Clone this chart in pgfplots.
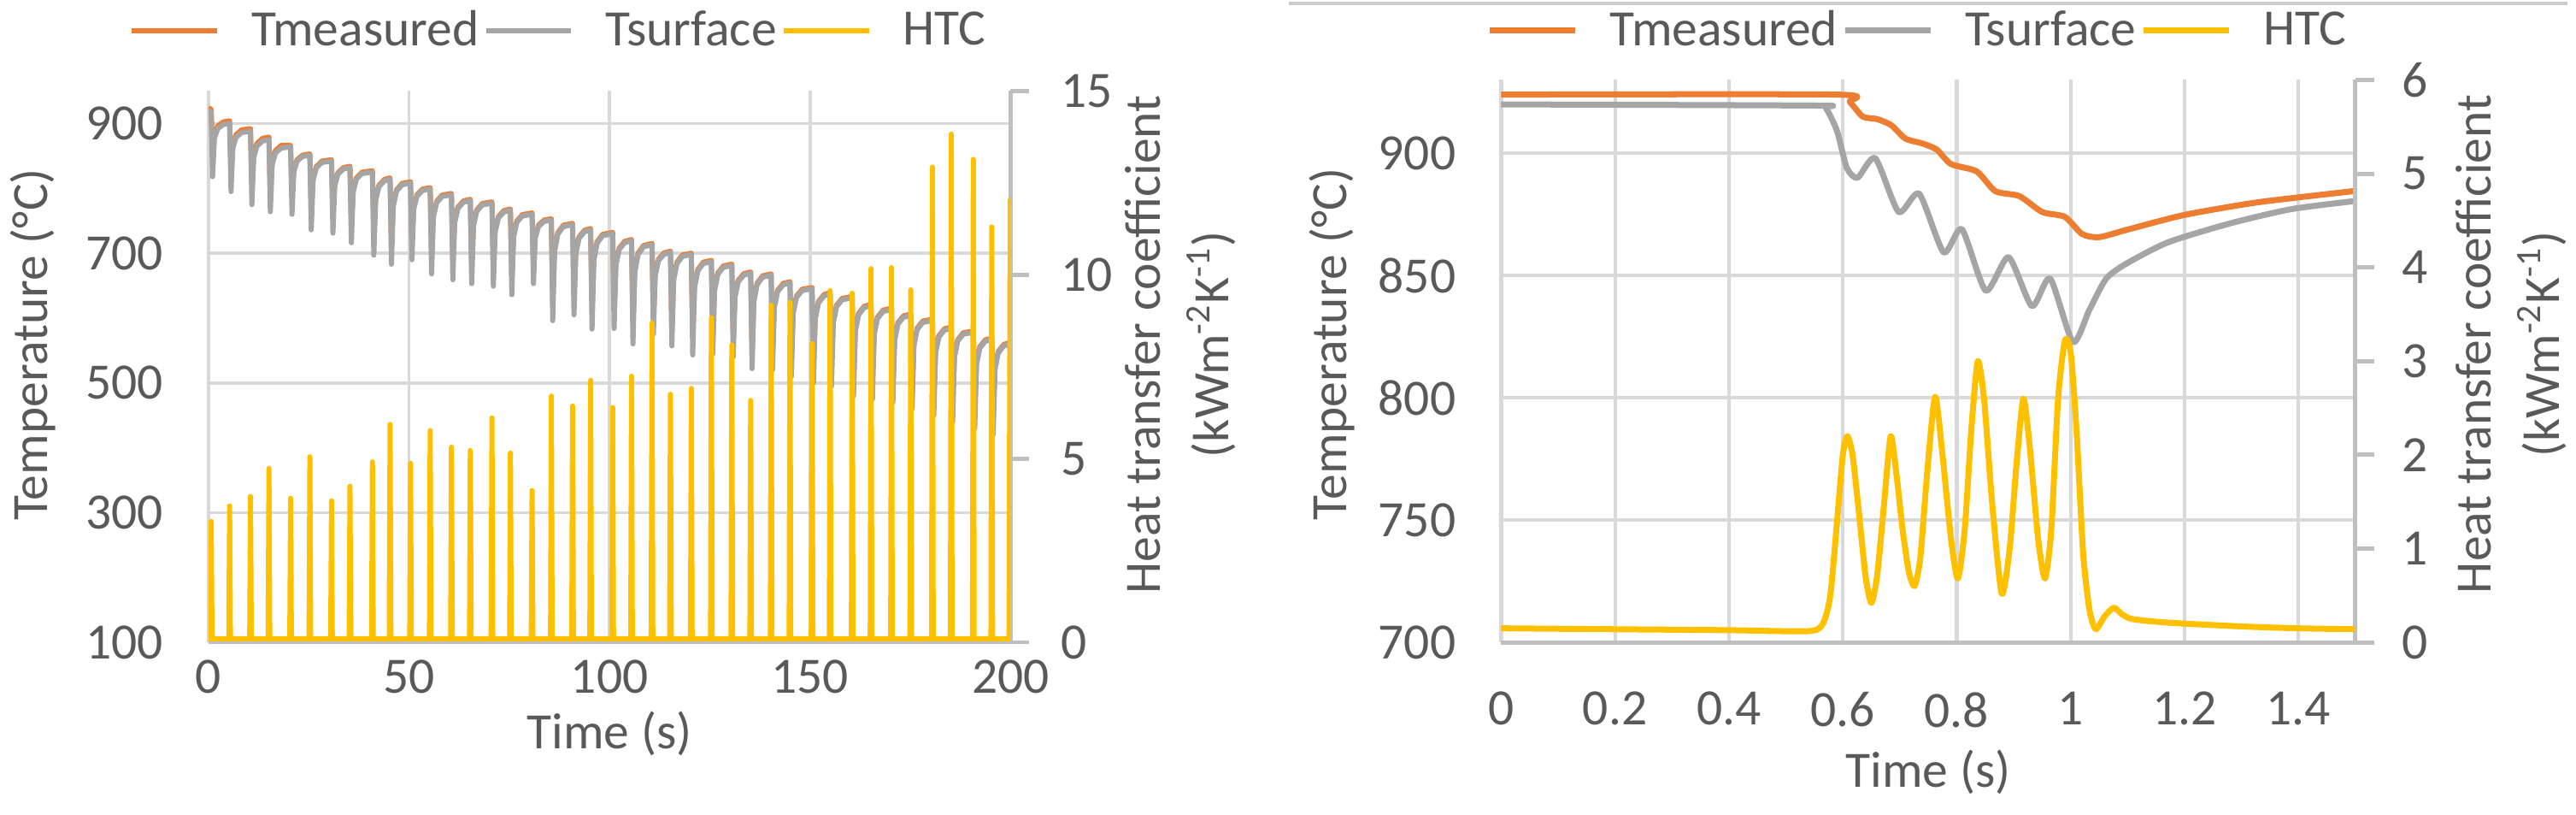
\documentclass[border=0pt]{standalone}
\usepackage{fontspec}
\setmainfont{Carlito}
\usepackage{pgfplots}
\pgfplotsset{compat=1.18}

\definecolor{tmeas}{HTML}{ED7D31}
\definecolor{tsurf}{HTML}{A5A5A5}
\definecolor{htc}{HTML}{FFC000}
\definecolor{txt}{HTML}{595959}
\definecolor{grd}{HTML}{D9D9D9}
\definecolor{axl}{HTML}{BFBFBF}

\pgfplotsset{
  base/.style={
    scale only axis,
    /pgf/number format/assume math mode=true,
    tick label style={text=txt, font=\fontsize{17}{20}\selectfont},
    label style={text=txt, font=\fontsize{17}{20}\selectfont},
    major tick length=0pt,
  },
  tm/.style={color=tmeas, line width=1.7pt, line join=round, mark=none},
  ts/.style={color=tsurf, line width=1.7pt, line join=round, mark=none},
  hc/.style={color=htc, line width=1.7pt, line join=round, mark=none},
  leg/.style={
    legend style={draw=none, fill=none, legend columns=3, text=txt,
      font=\fontsize{17}{20}\selectfont, nodes={inner sep=1.5pt},
      /tikz/every odd column/.append style={column sep=0.32cm}},
    legend image code/.code={\draw[##1] (0cm,0cm) -- (1.0cm,0cm);},
  },
}

\begin{document}
\begin{tikzpicture}
\path (0,0) rectangle (30.14,9.55);
\draw[color=axl!80, line width=1.2pt] (15.13,9.52) -- (30.14,9.52);

% ---------------- left panel ----------------
\begin{axis}[base, leg,
  at={(2.44cm,2.02cm)}, anchor=south west, width=9.42cm, height=6.47cm,
  xmin=0, xmax=200, ymin=100, ymax=950,
  xtick={0,50,100,150,200}, ytick={100,300,500,700,900},
  axis x line*=bottom, axis y line*=left,
  x axis line style={draw=axl, line width=1.3pt, -},
  y axis line style={draw=none},
  grid=major, major grid style={draw=grd, line width=1pt},
  xticklabel style={yshift=-0.08cm},
  yticklabel style={xshift=-0.41cm},
  xlabel={Time (s)}, ylabel={Temperature (°C)},
  xlabel style={at={(axis description cs:0.5,-0.165)}, anchor=center},
  ylabel style={at={(axis description cs:-0.219,0.54)}, anchor=center},
  legend style={at={(0.438,1.11)}, anchor=center},
]
\addplot[tm] coordinates {
(0,924) (0.7,922) (1.05,848) (1.5,881) (2.3,895.8) (3.7,902.4)
(5.3,904) (5.65,825) (6.1,866) (6.9,882.7) (8.3,890.1)
(10.5,892) (10.85,805) (11.3,851) (12.1,869) (13.5,877)
(15.1,879) (15.45,794) (15.9,840) (16.7,858) (18.1,866)
(20.5,866) (20.85,790) (21.3,827.5) (22.1,843.9) (23.5,851.2)
(25.3,853) (25.65,766) (26.1,814.3) (26.9,833.4) (28.3,841.9)
(30.7,844) (31.05,761) (31.5,805.7) (32.3,823.9) (33.7,832)
(35.3,834) (35.65,746) (36.1,796.5) (36.9,816.1) (38.3,824.8)
(40.9,827) (41.25,727) (41.7,783.2) (42.5,804.3) (43.9,813.7)
(45.3,816) (45.65,713) (46.1,775) (46.9,797.5) (48.3,807.5)
(50.4,810) (50.75,720) (51.2,770.5) (52,790.1) (53.4,798.8)
(55.3,801) (55.65,698) (56.1,757.8) (56.9,779.8) (58.3,789.6)
(60.6,792) (60.95,689) (61.4,748.8) (62.2,770.8) (63.6,780.6)
(65.3,783) (65.65,683) (66.1,744.3) (66.9,766.6) (68.3,776.5)
(70.7,779) (71.05,679) (71.5,735.2) (72.3,756.3) (73.7,765.7)
(75.3,768) (75.65,666) (76.1,727.3) (76.9,749.6) (78.3,759.5)
(80.7,762) (81.05,683) (81.5,725.6) (82.3,743.2) (83.7,751)
(85.5,753) (85.85,626) (86.3,704.6) (87.1,731.2) (88.5,743)
(90.8,746) (91.15,635) (91.6,701.3) (92.4,724.9) (93.8,735.4)
(95.3,738) (95.65,613) (96.1,690.8) (96.9,717.3) (98.3,729.1)
(100.8,732) (101.15,614) (101.6,683.2) (102.4,707.5) (103.8,718.3)
(105.5,721) (105.85,590) (106.3,672.2) (107.1,699.7) (108.5,711.9)
(110.6,715) (110.95,605) (111.4,667.7) (112.2,690.4) (113.6,700.5)
(115.2,703) (115.55,587) (116,660.5) (116.8,685.9) (118.2,697.2)
(120.4,700) (120.75,573) (121.2,648.7) (122,674.6) (123.4,686.1)
(125.4,689) (125.75,575) (126.2,644.9) (127,669.4) (128.4,680.3)
(130.5,683) (130.85,570) (131.3,634.9) (132.1,658.1) (133.5,668.4)
(135.2,671) (135.55,552) (136,627.7) (136.8,653.6) (138.2,665.1)
(140.3,668) (140.65,550) (141.1,618.5) (141.9,642.6) (143.3,653.3)
(145,656) (145.35,540) (145.8,609.2) (146.6,633.5) (148,644.3)
(150.5,647) (150.85,530) (151.3,600.6) (152.1,625.3) (153.5,636.3)
(155,639) (155.35,525) (155.8,594.9) (156.6,619.4) (158,630.3)
(160.5,633) (160.85,510) (161.3,582.1) (162.1,607.1) (163.5,618.2)
(165.2,621) (165.55,505) (166,576.4) (166.8,601.2) (168.2,612.2)
(170.3,615) (170.65,500) (171.1,568.5) (171.9,592.6) (173.3,603.3)
(175.1,606) (175.45,490) (175.9,559.9) (176.7,584.4) (178.1,595.3)
(180.5,598) (180.85,480) (181.3,548.5) (182.1,572.6) (183.5,583.3)
(185.2,586) (185.55,470) (186,541.4) (186.8,566.2) (188.2,577.2)
(190.7,580) (191.05,460) (191.5,530.6) (192.3,555.3) (193.7,566.3)
(195.3,569) (195.65,450) (196.1,522.8) (196.9,548) (198.3,559.2)
(199.7,562) (200,545)};
\addlegendentry{Tmeasured}
\addplot[ts] coordinates {
(0,920) (0.7,918) (1.05,818) (1.5,877) (2.3,891.8) (3.7,898.4)
(5.3,900) (5.65,795) (6.1,862) (6.9,878.7) (8.3,886.1)
(10.5,888) (10.85,775) (11.3,847) (12.1,865) (13.5,873)
(15.1,875) (15.45,764) (15.9,836) (16.7,854) (18.1,862)
(20.5,864) (20.85,760) (21.3,825.5) (22.1,841.9) (23.5,849.2)
(25.3,851) (25.65,736) (26.1,812.3) (26.9,831.4) (28.3,839.9)
(30.7,842) (31.05,731) (31.5,803.7) (32.3,821.9) (33.7,830)
(35.3,832) (35.65,716) (36.1,794.5) (36.9,814.1) (38.3,822.8)
(40.9,825) (41.25,697) (41.7,781.2) (42.5,802.3) (43.9,811.7)
(45.3,814) (45.65,683) (46.1,773) (46.9,795.5) (48.3,805.5)
(50.4,808) (50.75,690) (51.2,768.5) (52,788.1) (53.4,796.8)
(55.3,799) (55.65,668) (56.1,755.8) (56.9,777.8) (58.3,787.6)
(60.6,790) (60.95,659) (61.4,746.8) (62.2,768.8) (63.6,778.6)
(65.3,781) (65.65,653) (66.1,742.3) (66.9,764.6) (68.3,774.5)
(70.7,777) (71.05,649) (71.5,733.2) (72.3,754.3) (73.7,763.7)
(75.3,766) (75.65,636) (76.1,725.3) (76.9,747.6) (78.3,757.5)
(80.7,760) (81.05,653) (81.5,723.6) (82.3,741.2) (83.7,749)
(85.5,751) (85.85,596) (86.3,702.6) (87.1,729.2) (88.5,741)
(90.8,744) (91.15,605) (91.6,699.3) (92.4,722.9) (93.8,733.4)
(95.3,736) (95.65,583) (96.1,688.8) (96.9,715.3) (98.3,727.1)
(100.8,730) (101.15,584) (101.6,681.2) (102.4,705.5) (103.8,716.3)
(105.5,719) (105.85,560) (106.3,670.2) (107.1,697.7) (108.5,709.9)
(110.6,713) (110.95,575) (111.4,665.7) (112.2,688.4) (113.6,698.5)
(115.2,701) (115.55,557) (116,658.5) (116.8,683.9) (118.2,695.2)
(120.4,698) (120.75,543) (121.2,646.7) (122,672.6) (123.4,684.1)
(125.4,687) (125.75,545) (126.2,642.9) (127,667.4) (128.4,678.3)
(130.5,681) (130.85,540) (131.3,632.9) (132.1,656.1) (133.5,666.4)
(135.2,669) (135.55,522) (136,625.7) (136.8,651.6) (138.2,663.1)
(140.3,666) (140.65,520) (141.1,616.5) (141.9,640.6) (143.3,651.3)
(145,654) (145.35,510) (145.8,607.2) (146.6,631.5) (148,642.3)
(150.5,645) (150.85,500) (151.3,598.6) (152.1,623.3) (153.5,634.3)
(155,637) (155.35,495) (155.8,592.9) (156.6,617.4) (158,628.3)
(160.5,631) (160.85,480) (161.3,580.1) (162.1,605.1) (163.5,616.2)
(165.2,619) (165.55,475) (166,574.4) (166.8,599.2) (168.2,610.2)
(170.3,613) (170.65,470) (171.1,566.5) (171.9,590.6) (173.3,601.3)
(175.1,604) (175.45,460) (175.9,557.9) (176.7,582.4) (178.1,593.3)
(180.5,596) (180.85,450) (181.3,546.5) (182.1,570.6) (183.5,581.3)
(185.2,584) (185.55,440) (186,539.4) (186.8,564.2) (188.2,575.2)
(190.7,578) (191.05,430) (191.5,528.6) (192.3,553.3) (193.7,564.3)
(195.3,567) (195.65,420) (196.1,520.8) (196.9,546) (198.3,557.2)
(199.7,560) (200,540)};
\addlegendentry{Tsurface}
\addlegendimage{hc}
\addlegendentry{HTC}
\end{axis}

\begin{axis}[base,
  at={(2.44cm,2.02cm)}, anchor=south west, width=9.42cm, height=6.47cm,
  xmin=0, xmax=200, ymin=0, ymax=15, ytick={0,5,10,15},
  axis x line=none, axis y line*=right,
  y axis line style={draw=axl, line width=1.3pt, -},
  ytick style={draw=axl, line width=1.3pt},
  major tick length=0.22cm, tick align=outside,
  yticklabel style={xshift=0.25cm},
  ylabel={Heat transfer coefficient\\(kWm\textsuperscript{-2}K\textsuperscript{-1})},
  ylabel style={align=center, font=\fontsize{17}{22.8}\selectfont,
    at={(axis description cs:1.212,0.54)}, anchor=center},
]
\addplot[hc] coordinates {
(0,0.1) (0.5,0.1) (0.7,3.29) (0.9,0.1)
(5.1,0.1) (5.3,3.71) (5.5,0.1)
(10.3,0.1) (10.5,3.97) (10.7,0.1)
(14.9,0.1) (15.1,4.73) (15.3,0.1)
(20.3,0.1) (20.5,3.92) (20.7,0.1)
(25.1,0.1) (25.3,5.05) (25.5,0.1)
(30.5,0.1) (30.7,3.85) (30.9,0.1)
(35.1,0.1) (35.3,4.25) (35.5,0.1)
(40.7,0.1) (40.9,4.91) (41.1,0.1)
(45.1,0.1) (45.3,5.93) (45.5,0.1)
(50.2,0.1) (50.4,4.87) (50.6,0.1)
(55.1,0.1) (55.3,5.76) (55.5,0.1)
(60.4,0.1) (60.6,5.31) (60.8,0.1)
(65.1,0.1) (65.3,5.22) (65.5,0.1)
(70.5,0.1) (70.7,6.11) (70.9,0.1)
(75.1,0.1) (75.3,5.15) (75.5,0.1)
(80.5,0.1) (80.7,4.13) (80.9,0.1)
(85.3,0.1) (85.5,6.70) (85.7,0.1)
(90.6,0.1) (90.8,6.43) (91,0.1)
(95.1,0.1) (95.3,7.13) (95.5,0.1)
(100.6,0.1) (100.8,6.39) (101,0.1)
(105.3,0.1) (105.5,7.24) (105.7,0.1)
(110.4,0.1) (110.6,8.69) (110.8,0.1)
(115,0.1) (115.2,6.75) (115.4,0.1)
(120.2,0.1) (120.4,6.91) (120.6,0.1)
(125.2,0.1) (125.4,8.83) (125.6,0.1)
(130.3,0.1) (130.5,8.09) (130.7,0.1)
(135,0.1) (135.2,6.58) (135.4,0.1)
(140.1,0.1) (140.3,9.17) (140.5,0.1)
(144.8,0.1) (145,9.25) (145.2,0.1)
(150.3,0.1) (150.5,8.13) (150.7,0.1)
(154.8,0.1) (155,9.57) (155.2,0.1)
(160.3,0.1) (160.5,9.50) (160.7,0.1)
(165,0.1) (165.2,10.17) (165.4,0.1)
(170.1,0.1) (170.3,10.20) (170.5,0.1)
(174.9,0.1) (175.1,9.59) (175.3,0.1)
(180.3,0.1) (180.5,12.93) (180.7,0.1)
(185,0.1) (185.2,13.83) (185.4,0.1)
(190.5,0.1) (190.7,13.14) (190.9,0.1)
(195.1,0.1) (195.3,11.30) (195.5,0.1)
(199.6,0.1) (199.9,12.04) (200,11)};
\end{axis}

% ---------------- right panel ----------------
\begin{axis}[base, leg,
  at={(17.62cm,2.02cm)}, anchor=south west, width=10.03cm, height=6.60cm,
  xmin=0, xmax=1.5, ymin=700, ymax=930,
  xtick={0,0.2,0.4,0.6,0.8,1,1.2,1.4}, ytick={700,750,800,850,900},
  axis x line*=bottom, axis y line*=left,
  x axis line style={draw=axl, line width=1.4pt, -},
  y axis line style={draw=none},
  grid=major, major grid style={draw=grd, line width=1.2pt},
  xticklabel style={yshift=-0.46cm},
  yticklabel style={xshift=-0.41cm},
  xlabel={Time (s)}, ylabel={Temperature (°C)},
  xlabel style={at={(axis description cs:0.5,-0.23)}, anchor=center},
  ylabel style={at={(axis description cs:-0.198,0.53)}, anchor=center},
  legend style={at={(0.489,1.088)}, anchor=center},
]
\addplot[tm, line width=2pt, smooth, tension=0.4] coordinates {
(0,924) (0.59,924) (0.612,921) (0.635,915) (0.66,914) (0.685,911.5) (0.71,906) (0.74,904)
(0.765,901.5) (0.79,895.6) (0.835,892.6) (0.868,884.5) (0.91,882.5) (0.95,876) (0.99,874)
(1.02,867) (1.05,865.7) (1.1,868.8) (1.2,874.8) (1.33,880) (1.5,884.6)};
\addlegendentry{Tmeasured}
\addplot[ts, line width=2pt, smooth, tension=0.4] coordinates {
(0,920) (0.55,919.5) (0.57,918.5) (0.59,909) (0.607,894) (0.626,890) (0.657,898) (0.698,876)
(0.734,883.5) (0.777,859.5) (0.809,869) (0.851,843.8) (0.891,857.5) (0.932,837.5) (0.964,848.8)
(1.004,822.8) (1.033,836) (1.062,848.6) (1.095,854.5) (1.17,863.5) (1.278,871.2) (1.386,877.1)
(1.5,880.5)};
\addlegendentry{Tsurface}
\addlegendimage{hc, line width=2pt}
\addlegendentry{HTC}
\end{axis}

\begin{axis}[base,
  at={(17.62cm,2.02cm)}, anchor=south west, width=10.03cm, height=6.60cm,
  xmin=0, xmax=1.5, ymin=0, ymax=6, ytick={0,1,2,3,4,5,6},
  axis x line=none, axis y line*=right,
  y axis line style={draw=axl, line width=1.4pt, -},
  ytick style={draw=axl, line width=1.4pt},
  major tick length=0.22cm, tick align=outside,
  yticklabel style={xshift=0.2cm},
  ylabel={Heat transfer coefficient\\(kWm\textsuperscript{-2}K\textsuperscript{-1})},
  ylabel style={align=center, font=\fontsize{17}{22.8}\selectfont,
    at={(axis description cs:1.182,0.53)}, anchor=center},
]
\addplot[hc, line width=2pt, smooth, tension=0.4] coordinates {
(0,0.15) (0.2,0.14) (0.4,0.13) (0.54,0.12) (0.565,0.2) (0.578,0.5) (0.59,1.3) (0.6,2.0)
(0.608,2.2) (0.617,2.0) (0.628,1.4) (0.64,0.7) (0.65,0.42) (0.66,0.7) (0.672,1.45) (0.684,2.2)
(0.694,1.8) (0.705,1.2) (0.716,0.75) (0.726,0.6) (0.736,0.9) (0.748,1.8) (0.762,2.62) (0.775,2.0)
(0.79,1.1) (0.802,0.68) (0.814,1.2) (0.826,2.3) (0.837,3.0) (0.848,2.6) (0.862,1.5) (0.879,0.52)
(0.893,1.0) (0.905,1.9) (0.917,2.6) (0.928,2.1) (0.943,1.1) (0.955,0.68) (0.966,1.2) (0.978,2.6)
(0.99,3.22) (1.0,3.1) (1.01,2.3) (1.022,0.95) (1.033,0.35) (1.044,0.14) (1.06,0.28) (1.076,0.37)
(1.09,0.3) (1.107,0.25) (1.15,0.22) (1.2,0.2) (1.3,0.17) (1.4,0.15) (1.5,0.14)};
\end{axis}
\end{tikzpicture}
\end{document}
